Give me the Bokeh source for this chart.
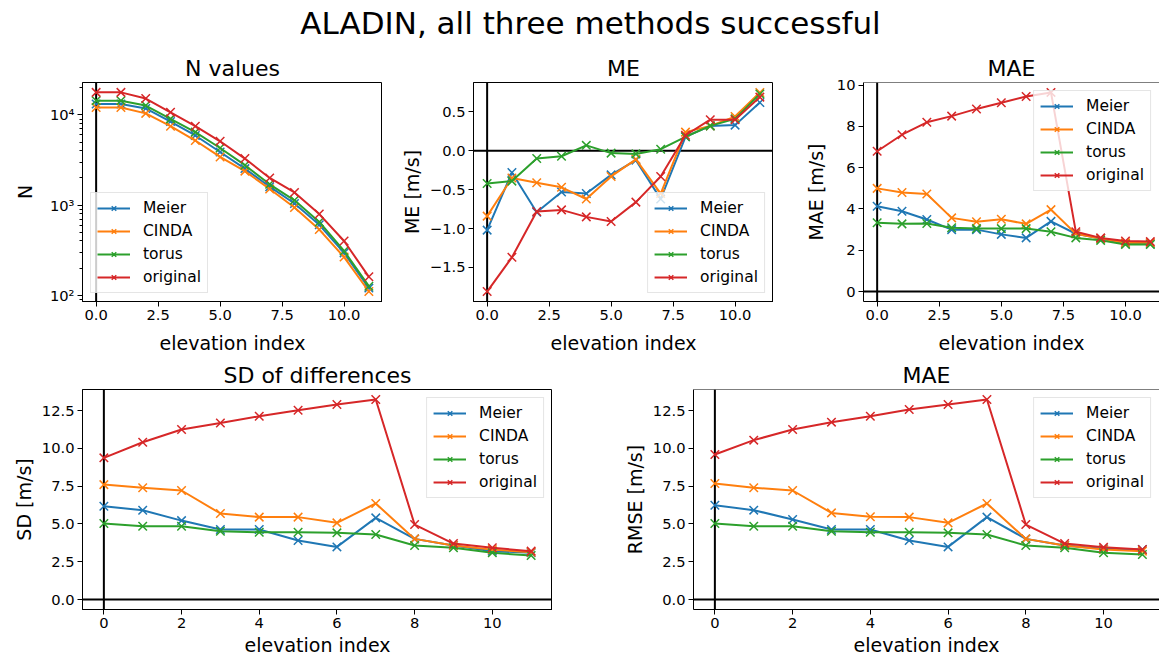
from bokeh.plotting import figure
from bokeh.layouts import column, row
from bokeh.models import Range1d, FixedTicker, CustomJSTickFormatter, Span, Label
from bokeh.embed import file_html
from bokeh.resources import INLINE

# ---------------- data ----------------
elev = list(range(12))
methods = ["Meier", "CINDA", "torus", "original"]
colors = ["#1f77b4", "#ff7f0e", "#2ca02c", "#d62728"]

n_meier = [13200, 13200, 11800, 8450, 5920, 3880, 2540, 1600, 1040, 605, 295, 120]
n_cinda = [12100, 12100, 10400, 7500, 5200, 3420, 2380, 1510, 940, 535, 265, 110]
n_torus = [14400, 14400, 12700, 9040, 6450, 4300, 2770, 1700, 1130, 650, 310, 126]
n_orig = [17800, 17800, 15200, 10700, 7500, 5100, 3280, 2000, 1380, 795, 400, 160]

me_meier = [-1.02, -0.28, -0.79, -0.53, -0.55, -0.31, -0.12, -0.62, 0.18, 0.32, 0.33, 0.62]
me_cinda = [-0.84, -0.35, -0.41, -0.47, -0.62, -0.33, -0.11, -0.55, 0.24, 0.32, 0.44, 0.75]
me_torus = [-0.42, -0.39, -0.10, -0.07, 0.07, -0.03, -0.04, 0.02, 0.18, 0.32, 0.41, 0.73]
me_orig = [-1.81, -1.37, -0.78, -0.76, -0.85, -0.91, -0.66, -0.33, 0.20, 0.40, 0.40, 0.69]

mae_meier = [4.13, 3.89, 3.49, 3.00, 3.00, 2.77, 2.60, 3.40, 2.80, 2.57, 2.32, 2.32]
mae_cinda = [5.00, 4.80, 4.73, 3.57, 3.38, 3.50, 3.28, 3.97, 2.80, 2.57, 2.36, 2.36]
mae_torus = [3.33, 3.28, 3.30, 3.09, 3.05, 3.05, 3.05, 2.90, 2.60, 2.48, 2.28, 2.28]
mae_orig = [6.80, 7.60, 8.20, 8.50, 8.85, 9.15, 9.45, 9.65, 2.90, 2.60, 2.45, 2.42]

sd_meier = [6.17, 5.90, 5.22, 4.63, 4.63, 3.90, 3.48, 5.40, 4.01, 3.57, 3.20, 3.09]
sd_cinda = [7.60, 7.39, 7.21, 5.69, 5.45, 5.45, 5.07, 6.35, 4.01, 3.57, 3.30, 3.13]
sd_torus = [5.03, 4.85, 4.85, 4.52, 4.45, 4.45, 4.41, 4.30, 3.57, 3.42, 3.09, 2.91]
sd_orig = [9.37, 10.40, 11.24, 11.68, 12.12, 12.52, 12.90, 13.23, 4.96, 3.70, 3.42, 3.20]

rmse_meier = [6.24, 5.91, 5.29, 4.63, 4.63, 3.90, 3.48, 5.45, 4.01, 3.57, 3.35, 3.31]
rmse_cinda = [7.67, 7.39, 7.21, 5.73, 5.47, 5.45, 5.07, 6.35, 4.01, 3.57, 3.31, 3.20]
rmse_torus = [5.03, 4.85, 4.85, 4.52, 4.45, 4.45, 4.41, 4.30, 3.57, 3.42, 3.09, 2.98]
rmse_orig = [9.59, 10.54, 11.24, 11.73, 12.12, 12.57, 12.90, 13.23, 4.96, 3.70, 3.46, 3.31]

suptitle = "ALADIN, all three methods successful"
titles = ["N values", "ME", "MAE", "SD of differences", "MAE"]
ylabels = ["N", "ME [m/s]", "MAE [m/s]", "SD [m/s]", "RMSE [m/s]"]
xlabel = "elevation index"
xticks_top = [0, 2.5, 5, 7.5, 10]
xticks_bottom = [0, 2, 4, 6, 8, 10]
yticks_me = [-1.5, -1.0, -0.5, 0.0, 0.5]
yticks_mae = [0, 2, 4, 6, 8, 10]
yticks_sd = [0, 2.5, 5, 7.5, 10, 12.5]

FONT = "DejaVu Sans"
TICK_FS = "14.7px"
LABEL_FS = "19px"
TITLE_FS = "22px"
LEG_FS = "15.5px"

fmt1 = CustomJSTickFormatter(code="return tick.toFixed(1).replace('-', '\u2212');")
fmt0 = CustomJSTickFormatter(code="return tick.toFixed(0).replace('-', '\u2212');")
fmtlog = CustomJSTickFormatter(code="""
const sup = {'0':'\u2070','1':'\u00b9','2':'\u00b2','3':'\u00b3','4':'\u2074','5':'\u2075','6':'\u2076','7':'\u2077','8':'\u2078','9':'\u2079','-':'\u207b'};
const e = Math.round(Math.log10(tick));
return '10' + String(e).split('').map(c => sup[c]).join('');
""")


def style_axis(ax):
    ax.axis_line_color = "black"
    ax.axis_line_width = 1
    ax.major_tick_line_color = "black"
    ax.major_tick_out = 5
    ax.major_tick_in = 0
    ax.minor_tick_line_color = None
    ax.major_label_text_font = FONT
    ax.major_label_text_font_size = TICK_FS
    ax.major_label_text_color = "black"
    ax.major_label_standoff = 3
    ax.axis_label_text_font = FONT
    ax.axis_label_text_font_size = LABEL_FS
    ax.axis_label_text_font_style = "normal"
    ax.axis_label_text_color = "black"
    ax.axis_label_standoff = 4


def make_fig(fw, fh, left, top, bottom, xr, yr, title, ylabel, series,
             xticks, xfmt, yticks=None, yfmt=None, log=False,
             legend_loc="top_right", clipped=False, hline=True,
             ylabel_standoff=4, xlabel_standoff=3):
    p = figure(frame_width=fw, frame_height=fh,
               min_border_left=left, min_border_right=0,
               min_border_top=top, min_border_bottom=bottom,
               x_range=Range1d(*xr), y_range=Range1d(*yr),
               y_axis_type="log" if log else "linear",
               output_backend="svg", toolbar_location=None, title=title)
    p.title.text_font = FONT
    p.title.text_font_size = TITLE_FS
    p.title.text_font_style = "normal"
    p.title.align = "center"
    p.title.text_color = "black"
    p.title.standoff = 4
    p.grid.visible = False
    p.background_fill_color = "white"
    p.border_fill_color = "white"
    if clipped:
        p.outline_line_color = None
        p.add_layout(Span(location=yr[1], dimension="width", line_color="black", line_width=1))
    else:
        p.outline_line_color = "black"
        p.outline_line_width = 1
        p.outline_line_alpha = 1

    p.add_layout(Span(location=0, dimension="height", line_color="black", line_width=2, level="underlay"))
    if hline:
        p.add_layout(Span(location=0, dimension="width", line_color="black", line_width=2, level="underlay"))

    for name, col, ys in zip(methods, colors, series):
        p.line(elev, ys, line_color=col, line_width=2, legend_label=name)
        p.scatter(elev, ys, marker="x", size=12, line_color=col, line_width=1.5, legend_label=name)

    p.xaxis.ticker = FixedTicker(ticks=xticks)
    p.xaxis.formatter = xfmt
    p.xaxis.axis_label = xlabel
    p.yaxis.axis_label = ylabel
    if yticks is not None:
        p.yaxis.ticker = FixedTicker(ticks=yticks)
    if yfmt is not None:
        p.yaxis.formatter = yfmt
    style_axis(p.xaxis[0])
    style_axis(p.yaxis[0])
    p.yaxis.axis_label_standoff = ylabel_standoff
    p.xaxis.axis_label_standoff = xlabel_standoff
    if log:
        p.yaxis.minor_tick_line_color = "black"
        p.yaxis.minor_tick_out = 3
        p.yaxis.minor_tick_in = 0

    lg = p.legend[0]
    lg.location = legend_loc
    lg.margin = 8
    lg.padding = 6
    lg.spacing = 5
    lg.label_standoff = 13
    lg.glyph_width = 33
    lg.glyph_height = 16
    lg.label_height = 16
    lg.label_text_font = FONT
    lg.label_text_font_size = LEG_FS
    lg.label_text_color = "black"
    lg.border_line_color = "#cccccc"
    lg.border_line_width = 1
    lg.background_fill_color = "white"
    lg.background_fill_alpha = 0.8
    return p


# ---------------- suptitle ----------------
pt = figure(width=1159, height=50, x_range=Range1d(0, 1159), y_range=Range1d(0, 50),
            output_backend="svg", toolbar_location=None,
            x_axis_location=None, y_axis_location=None,
            min_border_left=0, min_border_right=0, min_border_top=0, min_border_bottom=0)
pt.grid.visible = False
pt.outline_line_color = None
pt.add_layout(Label(x=590, y=28, text=suptitle, text_align="center", text_baseline="middle",
                    text_font=FONT, text_font_size="31px", text_color="black"))

# ---------------- top row ----------------
p1 = make_fig(300, 219, 82, 32, 57, (-0.55, 11.55), (85.2, 22900), titles[0], ylabels[0],
              [n_meier, n_cinda, n_torus, n_orig], xticks_top, fmt1, yfmt=fmtlog, log=True,
              legend_loc="bottom_left", hline=False, ylabel_standoff=11, xlabel_standoff=9)
p2 = make_fig(300, 219, 91, 32, 57, (-0.55, 11.55), (-1.938, 0.878), titles[1], ylabels[1],
              [me_meier, me_cinda, me_torus, me_orig], xticks_top, fmt1, yticks_me, fmt1,
              legend_loc="bottom_right", xlabel_standoff=9)
p3 = make_fig(296, 219, 90, 32, 57, (-0.55, 11.37), (-0.4825, 10.13), titles[2], ylabels[2],
              [mae_meier, mae_cinda, mae_torus, mae_orig], xticks_top, fmt1, yticks_mae, fmt0,
              legend_loc="top_right", clipped=True, ylabel_standoff=7, xlabel_standoff=9)

# ---------------- bottom row ----------------
p4 = make_fig(470, 220, 82, 30, 51, (-0.55, 11.55), (-0.66, 13.89), titles[3], ylabels[3],
              [sd_meier, sd_cinda, sd_torus, sd_orig], xticks_bottom, fmt0, yticks_sd, fmt1,
              legend_loc="top_right", xlabel_standoff=3)
p5 = make_fig(466, 220, 141, 30, 51, (-0.55, 11.44), (-0.66, 13.89), titles[4], ylabels[4],
              [rmse_meier, rmse_cinda, rmse_torus, rmse_orig], xticks_bottom, fmt0, yticks_sd, fmt1,
              legend_loc="top_right", clipped=True, xlabel_standoff=3)

layout = column(pt, row(p1, p2, p3, spacing=0), row(p4, p5, spacing=0), spacing=0)

with open("out.html", "w", encoding="utf-8") as f:
    f.write(file_html(layout, INLINE))
